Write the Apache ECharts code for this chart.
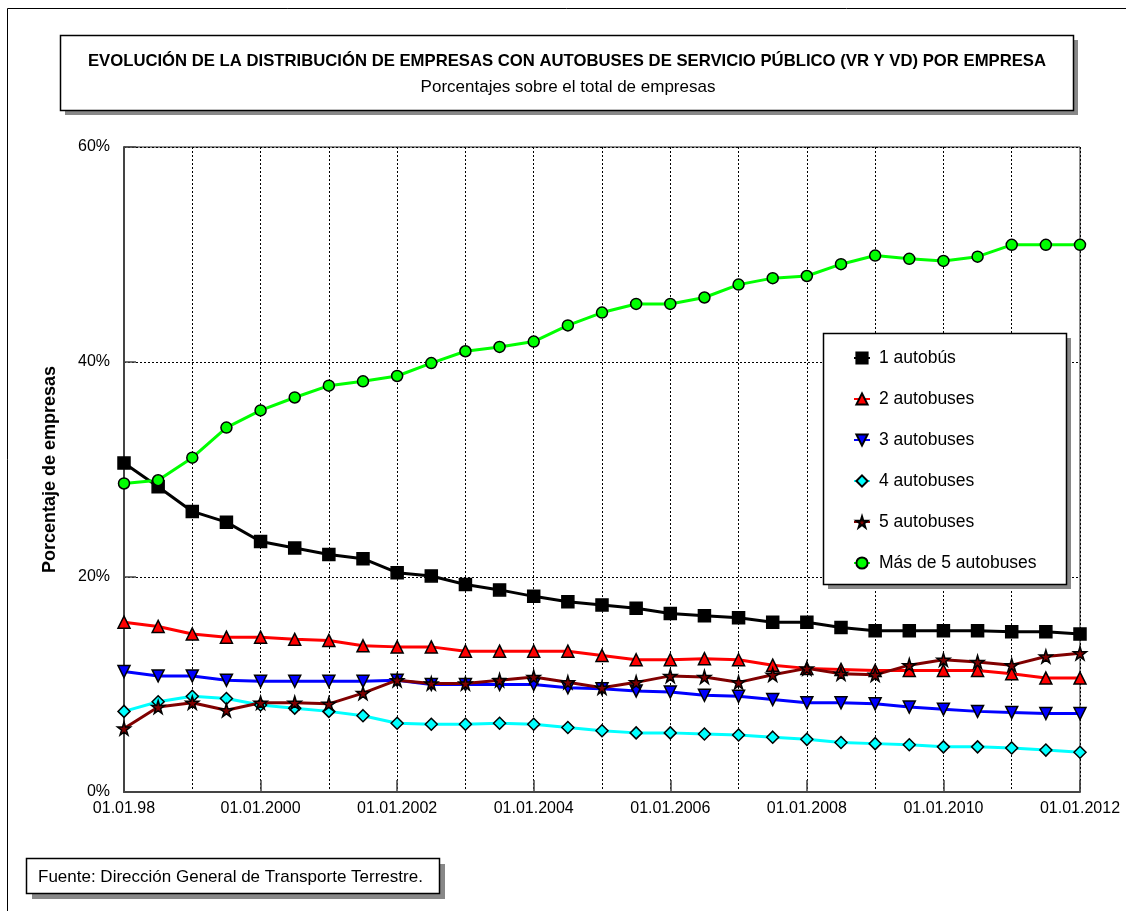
<!DOCTYPE html>
<html>
<head>
<meta charset="utf-8">
<script src="https://cdn.jsdelivr.net/npm/echarts@6/dist/echarts.min.js"></script>
<style>
    html, body { margin: 0; padding: 0; background: #fff; }
    #chart { width: 1126px; height: 911px; }
</style>
</head>
<body>
<div id="chart"></div>
<script>
let fechas = ['01.01.98','01.07.98','01.01.99','01.07.99','01.01.2000','01.07.2000','01.01.2001','01.07.2001',
    '01.01.2002','01.07.2002','01.01.2003','01.07.2003','01.01.2004','01.07.2004','01.01.2005','01.07.2005',
    '01.01.2006','01.07.2006','01.01.2007','01.07.2007','01.01.2008','01.07.2008','01.01.2009','01.07.2009',
    '01.01.2010','01.07.2010','01.01.2011','01.07.2011','01.01.2012'];
let nombres = ['1 autobús', '2 autobuses', '3 autobuses', '4 autobuses', '5 autobuses', 'Más de 5 autobuses'];
let unBus = [30.6,28.4,26.1,25.1,23.3,22.7,22.1,21.7,20.4,20.1,19.3,18.8,18.2,17.7,17.4,17.1,16.6,16.4,16.2,15.8,15.8,15.3,15.0,15.0,15.0,15.0,14.9,14.9,14.7];
let dosBus = [15.8,15.4,14.7,14.4,14.4,14.2,14.1,13.6,13.5,13.5,13.1,13.1,13.1,13.1,12.7,12.3,12.3,12.4,12.3,11.8,11.5,11.4,11.3,11.3,11.3,11.3,11.0,10.6,10.6];
let tresBus = [11.2,10.8,10.8,10.4,10.3,10.3,10.3,10.3,10.4,10.0,10.0,10.0,10.0,9.7,9.6,9.4,9.3,9.0,8.9,8.6,8.3,8.3,8.2,7.9,7.7,7.5,7.4,7.3,7.3];
let cuatroBus = [7.5,8.4,8.9,8.7,8.1,7.8,7.5,7.1,6.4,6.3,6.3,6.4,6.3,6.0,5.7,5.5,5.5,5.4,5.3,5.1,4.9,4.6,4.5,4.4,4.2,4.2,4.1,3.9,3.7];
let cincoBus = [5.9,7.9,8.3,7.6,8.3,8.3,8.2,9.2,10.4,10.1,10.1,10.4,10.7,10.2,9.7,10.2,10.8,10.7,10.2,10.9,11.5,11.0,10.9,11.8,12.3,12.1,11.8,12.6,12.9];
let masBus = [28.7,29.0,31.1,33.9,35.5,36.7,37.8,38.2,38.7,39.9,41.0,41.4,41.9,43.4,44.6,45.4,45.4,46.0,47.2,47.8,48.0,49.1,49.9,49.6,49.4,49.8,50.9,50.9,50.9];

let fuente = 'Liberation Sans, Arial, sans-serif';
let estrella = 'path://M50,0 L61,35 L98,35 L68,57 L79,91 L50,70 L21,91 L32,57 L2,35 L39,35 Z';

function serie(name, datos, color, symbol, size, extra){
    let s = {
        name: name,
        type: 'line',
        data: datos,
        symbol: symbol,
        symbolSize: size,
        lineStyle: { color: color, width: 3 },
        itemStyle: { color: color, borderColor: '#000', borderWidth: 1.5 },
        emphasis: { disabled: true }
    };
    if(extra) Object.assign(s, extra);
    return s;
}

let chart = echarts.init(document.getElementById('chart'), null, { renderer: 'canvas' });
chart.setOption({
    animation: false,
    backgroundColor: '#fff',
    textStyle: { fontFamily: fuente },
    grid: {
        left: 124, top: 147, right: 46, bottom: 119,
        show: true, borderColor: '#222', borderWidth: 1, backgroundColor: 'transparent'
    },
    legend: {
        orient: 'vertical',
        left: 848, top: 344,
        itemWidth: 16, itemHeight: 14, itemGap: 23,
        z: 10,
        textStyle: { fontFamily: fuente, fontSize: 17.5, color: '#000', padding: [0, 0, 0, 4] },
        data: nombres
    },
    xAxis: {
        type: 'category',
        boundaryGap: false,
        data: fechas,
        axisLine: { lineStyle: { color: '#444', width: 2 } },
        axisTick: { inside: true, length: 12, interval: 3, lineStyle: { color: '#444', width: 1.5 } },
        axisLabel: { interval: 3, margin: 9, fontSize: 16, color: '#000', fontFamily: fuente },
        splitLine: { show: true, interval: 1, lineStyle: { color: '#000', width: 1, type: [2, 2] } }
    },
    yAxis: {
        type: 'value',
        min: 0, max: 60, interval: 20,
        name: 'Porcentaje de empresas',
        nameLocation: 'middle',
        nameGap: 65,
        nameTextStyle: { fontSize: 18, fontWeight: 'bold', color: '#000', fontFamily: fuente },
        axisLine: { show: true, lineStyle: { color: '#444', width: 2 } },
        axisTick: { show: true, inside: true, length: 12, lineStyle: { color: '#444', width: 1.5 } },
        axisLabel: { formatter: '{value}%', margin: 14, fontSize: 16, color: '#000', fontFamily: fuente },
        splitLine: { show: true, lineStyle: { color: '#000', width: 1, type: [2, 2] } }
    },
    graphic: [
        { type: 'line', shape: { x1: 7.5, y1: 8.5, x2: 7.5, y2: 911 }, style: { stroke: '#000', lineWidth: 1 } },
        { type: 'line', shape: { x1: 7.5, y1: 8.5, x2: 1126, y2: 8.5 }, style: { stroke: '#000', lineWidth: 1 } },
        // caja del titulo
        { type: 'rect', shape: { x: 65, y: 40, width: 1013, height: 75 }, style: { fill: '#888' } },
        { type: 'rect', shape: { x: 60.5, y: 35.5, width: 1013, height: 75 }, style: { fill: '#fff', stroke: '#000', lineWidth: 1.5 } },
        { type: 'text', x: 567, y: 61, style: {
            text: 'EVOLUCIÓN DE LA DISTRIBUCIÓN DE EMPRESAS CON AUTOBUSES DE SERVICIO PÚBLICO (VR Y VD) POR EMPRESA',
            font: 'bold 16.7px ' + fuente, fill: '#000', align: 'center', verticalAlign: 'middle' } },
        { type: 'text', x: 568, y: 87, style: {
            text: 'Porcentajes sobre el total de empresas',
            font: '17px ' + fuente, fill: '#000', align: 'center', verticalAlign: 'middle' } },
        // caja de la leyenda
        { type: 'rect', z: 8, shape: { x: 828, y: 338, width: 243, height: 251 }, style: { fill: '#888' } },
        { type: 'rect', z: 9, shape: { x: 823.5, y: 333.5, width: 243, height: 251 }, style: { fill: '#fff', stroke: '#000', lineWidth: 1.5 } },
        // fuente
        { type: 'rect', shape: { x: 32, y: 864, width: 413, height: 35 }, style: { fill: '#888' } },
        { type: 'rect', shape: { x: 26.5, y: 858.5, width: 413, height: 35 }, style: { fill: '#fff', stroke: '#000', lineWidth: 1.5 } },
        { type: 'text', x: 38, y: 877, style: {
            text: 'Fuente: Dirección General de Transporte Terrestre.',
            font: '17px ' + fuente, fill: '#000', align: 'left', verticalAlign: 'middle' } }
    ],
    series: [
        serie(nombres[0], unBus, '#000000', 'rect', 12),
        serie(nombres[1], dosBus, '#ff0000', 'triangle', 12),
        serie(nombres[2], tresBus, '#0000ff', 'triangle', 12, { symbolRotate: 180 }),
        serie(nombres[3], cuatroBus, '#00ffff', 'diamond', 12),
        serie(nombres[4], cincoBus, '#800000', estrella, 13),
        serie(nombres[5], masBus, '#00ff00', 'circle', 11)
    ]
});
</script>
</body>
</html>
